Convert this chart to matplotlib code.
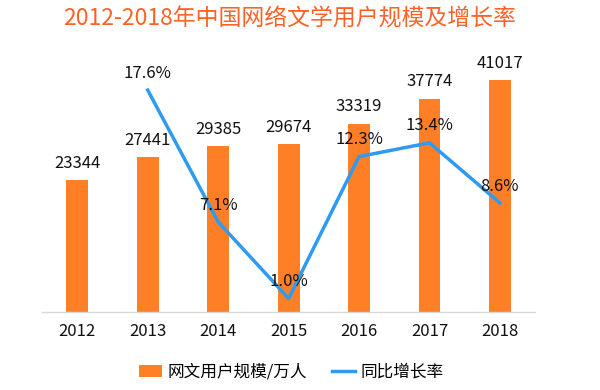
import matplotlib
matplotlib.use("Agg")
import matplotlib.pyplot as plt
import numpy as np

plt.rcParams['font.family'] = ['Noto Sans CJK SC', 'DejaVu Sans']

years = ['2012', '2013', '2014', '2015', '2016', '2017', '2018']
users = [23344, 27441, 29385, 29674, 33319, 37774, 41017]
growth_years = ['2013', '2014', '2015', '2016', '2017', '2018']
growth = [17.6, 7.1, 1.0, 12.3, 13.4, 8.6]

title = '2012-2018年中国网络文学用户规模及增长率'
bar_label = '网文用户规模/万人'
line_label = '同比增长率'

bar_color = '#FF7F27'
line_color = '#2E9BF0'

fig = plt.figure(figsize=(6, 3.9), dpi=100)
ax = fig.add_axes([0.07, 0.2, 0.822, 0.672])
x = np.arange(len(years))
bars = ax.bar(x, users, width=0.31, color=bar_color, label=bar_label, zorder=2)
ax.set_xlim(-0.5, len(years) - 0.5)
ax.set_ylim(0, 46400)
for xi, v in zip(x, users):
    ax.annotate(str(v), (xi, v), xytext=(0, 6), textcoords='offset points',
                ha='center', va='bottom', fontsize=12, color='#111111')

ax.set_xticks(x)
ax.set_xticklabels(years, fontsize=12, color='#111111')
ax.tick_params(axis='x', length=0, pad=8)
ax.set_yticks([])
for s in ['top', 'right', 'left']:
    ax.spines[s].set_visible(False)
ax.spines['bottom'].set_color('#D9D9D9')
ax.spines['bottom'].set_linewidth(1)

ax2 = ax.twinx()
gx = [years.index(y) for y in growth_years]
line, = ax2.plot(gx, growth, color=line_color, lw=2.5, label=line_label, zorder=3)
ax2.set_ylim(-0.08, 20.8)
ax2.set_yticks([])
for s in ['top', 'right', 'left', 'bottom']:
    ax2.spines[s].set_visible(False)
for xi, v in zip(gx, growth):
    ax2.annotate(f'{v:.1f}%', (xi, v), xytext=(0, 6), textcoords='offset points',
                 ha='center', va='bottom', fontsize=12, color='#111111')

fig.text(0.482, 0.95, title, ha='center', va='center', fontsize=16.5,
         color='#FF6226', fontweight='medium')

fig.legend(handles=[bars, line], labels=[bar_label, line_label],
           loc='center', bbox_to_anchor=(0.485, 0.045), ncol=2, frameon=False,
           fontsize=12, handlelength=1.4, handletextpad=0.3, columnspacing=1.5)

fig.savefig('out.png', dpi=100)
